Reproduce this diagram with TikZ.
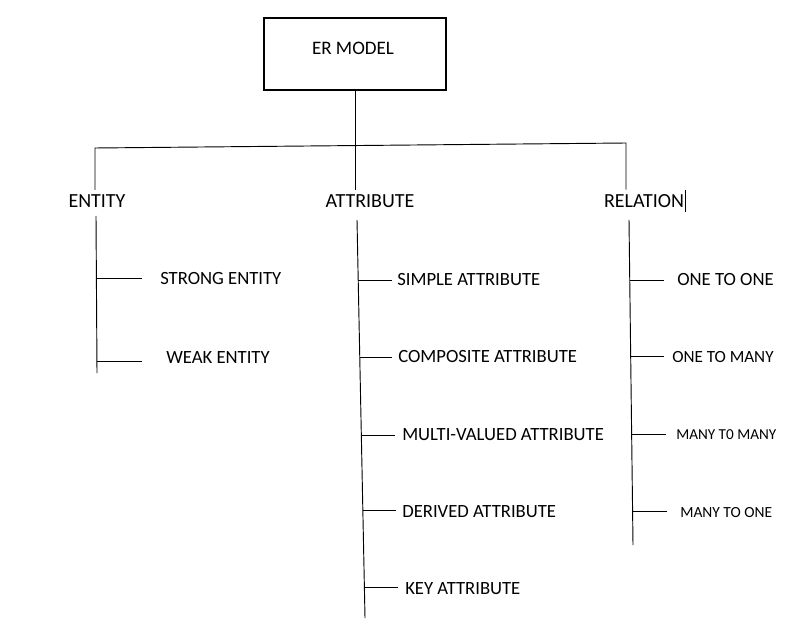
\documentclass[tikz,border=0pt]{standalone}
\usepackage{fontspec}
\setmainfont{Carlito}
\usetikzlibrary{positioning}
\tikzset{
	tree/.style={line width=0.7pt},
	head/.style={font=\fontsize{15}{18}\selectfont},
	leaf/.style={anchor=west, inner sep=0pt, font=\fontsize{14}{17}\selectfont},
}

\begin{document}
\begin{tikzpicture}[x=0.75pt, y=-0.75pt]
	\useasboundingbox (0,0) rectangle (798,627);

	% top box
	\node[draw, line width=1.5pt, minimum width=137pt, minimum height=54pt] (er) at (355,54) {};
	\node[font=\fontsize{14.3}{17}\selectfont] (ertext) at (353,48) {ER MODEL};

	% second row
	\node[head] (ent) at (97,201) {ENTITY};
	\node[head] (attr) at (370,201) {ATTRIBUTE};
	\node[head] (rel) at (644,201) {RELATION};
	\coordinate (lt) at (95,148);
	\coordinate (rt) at (626,143);
	\draw[tree] (er.south) -- (er.south |- attr.north);
	\draw[tree] (ent.north -| lt) -- (lt) -- (rt) -- (rel.north -| rt);
	\draw[line width=0.6pt] ([xshift=-2.5pt]rel.north east) -- ([xshift=-2.5pt]rel.south east);

	% entity
	\coordinate (e0) at (96,216);
	\coordinate (e9) at (97,373);
	\coordinate (e1) at (97,278);
	\coordinate (e2) at (97,361);
	\draw[tree] (e0) -- (e9);
	\node[leaf] (strong) at (160,279) {STRONG ENTITY};
	\node[leaf] (weak) at (166,358) {WEAK ENTITY};
	\draw[tree, shorten >=13.5pt] (e1) -- (e1 -| strong.west);
	\draw[tree, shorten >=18pt] (e2) -- (e2 -| weak.west);

	% attribute
	\coordinate (a0) at (357,220);
	\coordinate (a9) at (365,618);
	\coordinate (a1) at (358.2,280);
	\coordinate (a2) at (359.7,357);
	\coordinate (a3) at (361.3,435);
	\coordinate (a4) at (362.8,510);
	\coordinate (a5) at (364.4,587);
	\draw[tree] (a0) -- (a9);
	\node[leaf] (simple) at (397,280) {SIMPLE ATTRIBUTE};
	\node[leaf] (composite) at (398,357) {COMPOSITE ATTRIBUTE};
	\node[leaf] (multi) at (402,435) {MULTI-VALUED ATTRIBUTE};
	\node[leaf] (derived) at (402,512) {DERIVED ATTRIBUTE};
	\node[leaf] (key) at (405,589) {KEY ATTRIBUTE};
	\draw[tree, shorten >=3.75pt] (a1) -- (a1 -| simple.west);
	\draw[tree, shorten >=4.5pt] (a2) -- (a2 -| composite.west);
	\draw[tree, shorten >=5.25pt] (a3) -- (a3 -| multi.west);
	\draw[tree, shorten >=4.5pt] (a4) -- (a4 -| derived.west);
	\draw[tree, shorten >=5.25pt] (a5) -- (a5 -| key.west);

	% relation
	\coordinate (r0) at (629,220);
	\coordinate (r9) at (633,545);
	\coordinate (r1) at (630.1,280);
	\coordinate (r2) at (631,356);
	\coordinate (r3) at (632,434);
	\coordinate (r4) at (633,511);
	\draw[tree] (r0) -- (r9);
	\node[leaf] (oneone) at (677,280) {ONE TO ONE};
	\node[leaf, font=\fontsize{12.8}{15}\selectfont] (onemany) at (672,357) {ONE TO MANY};
	\node[leaf, font=\fontsize{11.4}{13}\selectfont] (manymany) at (676,435) {MANY T0 MANY};
	\node[leaf, font=\fontsize{11.6}{14}\selectfont] (manyone) at (680,513) {MANY TO ONE};
	\draw[tree, shorten >=9.75pt] (r1) -- (r1 -| oneone.west);
	\draw[tree, shorten >=6pt] (r2) -- (r2 -| onemany.west);
	\draw[tree, shorten >=7.5pt] (r3) -- (r3 -| manymany.west);
	\draw[tree, shorten >=9.75pt] (r4) -- (r4 -| manyone.west);
\end{tikzpicture}
\end{document}
